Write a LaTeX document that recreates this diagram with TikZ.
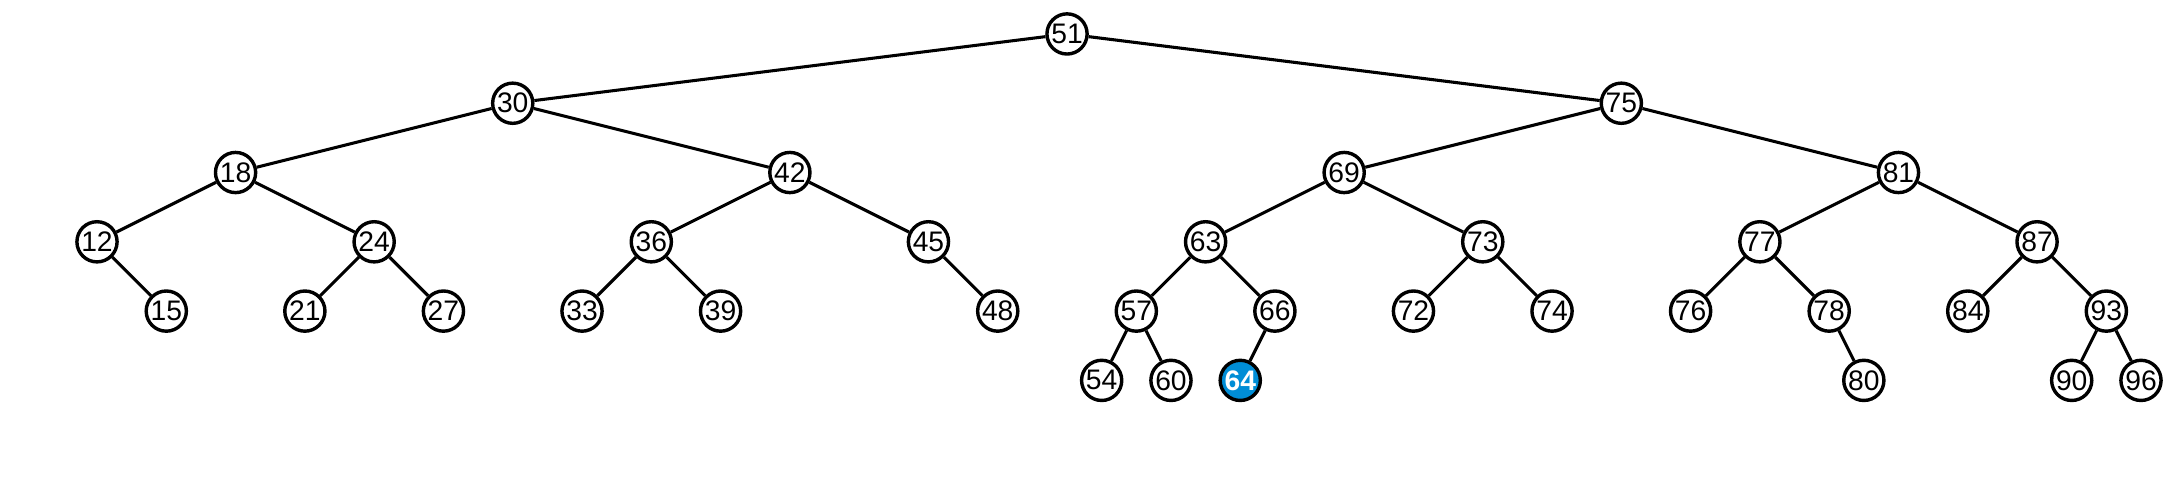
\documentclass[tikz,border=0pt]{standalone}
\usepackage{fontspec}
\setmainfont{Liberation Sans}
\usetikzlibrary{positioning}
\definecolor{hitblue}{RGB}{0,141,214}

\begin{document}
\begin{tikzpicture}[node distance =1cm and 1cm ,on grid ,
		line width=1.25pt ,
		key/.style ={ circle ,draw ,fill=white ,line width=1.4pt ,
			inner sep=0pt ,minimum size=0.58cm ,font=\fontsize{11.6}{13}\selectfont},
		found/.style ={ key ,fill=hitblue ,text=white ,
			font=\fontsize{11.6}{13}\selectfont\bfseries}]
		\useasboundingbox (0,0) rectangle (31.29,-6.898);
		% root and first levels
		\node[key] (n51) at (15.40,-0.49) {51};
		\node[key] (n30) [below left = 1cm and 8cm of n51] {30};
		\node[key] (n75) [below right = 1cm and 8cm of n51] {75};
		\node[key] (n18) [below left = 1cm and 4cm of n30] {18};
		\node[key] (n42) [below right = 1cm and 4cm of n30] {42};
		\node[key] (n69) [below left = 1cm and 4cm of n75] {69};
		\node[key] (n81) [below right = 1cm and 4cm of n75] {81};
		% third level
		\node[key] (n12) [below left = 1cm and 2cm of n18] {12};
		\node[key] (n24) [below right = 1cm and 2cm of n18] {24};
		\node[key] (n36) [below left = 1cm and 2cm of n42] {36};
		\node[key] (n45) [below right = 1cm and 2cm of n42] {45};
		\node[key] (n63) [below left = 1cm and 2cm of n69] {63};
		\node[key] (n73) [below right = 1cm and 2cm of n69] {73};
		\node[key] (n77) [below left = 1cm and 2cm of n81] {77};
		\node[key] (n87) [below right = 1cm and 2cm of n81] {87};
		% fourth level
		\node[key] (n15) [below right = 1cm and 1cm of n12] {15};
		\node[key] (n21) [below left = 1cm and 1cm of n24] {21};
		\node[key] (n27) [below right = 1cm and 1cm of n24] {27};
		\node[key] (n33) [below left = 1cm and 1cm of n36] {33};
		\node[key] (n39) [below right = 1cm and 1cm of n36] {39};
		\node[key] (n48) [below right = 1cm and 1cm of n45] {48};
		\node[key] (n57) [below left = 1cm and 1cm of n63] {57};
		\node[key] (n66) [below right = 1cm and 1cm of n63] {66};
		\node[key] (n72) [below left = 1cm and 1cm of n73] {72};
		\node[key] (n74) [below right = 1cm and 1cm of n73] {74};
		\node[key] (n76) [below left = 1cm and 1cm of n77] {76};
		\node[key] (n78) [below right = 1cm and 1cm of n77] {78};
		\node[key] (n84) [below left = 1cm and 1cm of n87] {84};
		\node[key] (n93) [below right = 1cm and 1cm of n87] {93};
		% fifth level
		\node[key] (n54) [below left = 1cm and 0.5cm of n57] {54};
		\node[key] (n60) [below right = 1cm and 0.5cm of n57] {60};
		\node[found] (n64) [below left = 1cm and 0.5cm of n66] {64};
		\node[key] (n80) [below right = 1cm and 0.5cm of n78] {80};
		\node[key] (n90) [below left = 1cm and 0.5cm of n93] {90};
		\node[key] (n96) [below right = 1cm and 0.5cm of n93] {96};
		% links
		\foreach \a/\b in {51/30, 51/75, 30/18, 30/42, 75/69, 75/81,
			18/12, 18/24, 42/36, 42/45, 69/63, 69/73, 81/77, 81/87,
			12/15, 24/21, 24/27, 36/33, 36/39, 45/48, 63/57, 63/66,
			73/72, 73/74, 77/76, 77/78, 87/84, 87/93,
			57/54, 57/60, 66/64, 78/80, 93/90, 93/96}
		\draw (n\a) -- (n\b);
\end{tikzpicture}
\end{document}
